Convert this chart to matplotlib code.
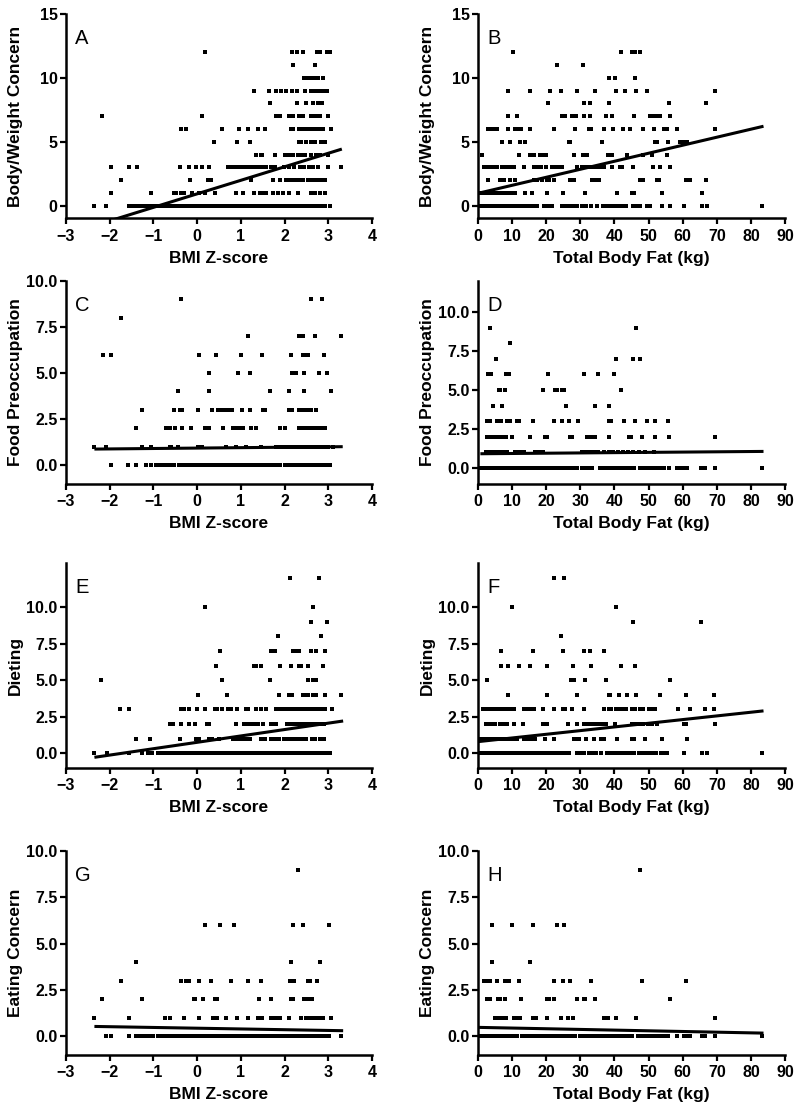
import numpy as np
import matplotlib.pyplot as plt

plt.rcParams['font.family'] = ['Liberation Sans', 'DejaVu Sans']

# score levels (y) and the x values of the points sitting on each level
# A: BMI z-score vs Body/Weight Concern
a_levels = [12, 11, 10, 9, 8, 7, 6, 5, 4, 3, 2, 1, 0]
a_x = [
    [0.18, 2.17, 2.29, 2.42, 2.74, 2.82, 2.98, 3.05],
    [2.19, 2.69],
    [2.45, 2.53, 2.6, 2.68, 2.76, 2.88],
    [1.3, 1.64, 1.81, 1.92, 2.04, 2.17, 2.29, 2.46, 2.61, 2.68, 2.76, 2.83, 2.88, 2.98],
    [1.66, 2.29, 2.5, 2.65, 2.76, 2.86],
    [-2.18, 0.11, 1.81, 1.89, 2.11, 2.19, 2.34, 2.42, 2.6, 2.65, 2.73, 2.8, 2.99],
    [-0.37, -0.25, 0.56, 0.95, 1.16, 1.39, 1.56, 2.15, 2.19, 2.34, 2.42, 2.5, 2.57, 2.65, 2.73, 2.8, 2.88, 3.07],
    [0.38, 0.92, 1.21, 2.32, 2.38, 2.5, 2.61, 2.69, 2.84, 2.92],
    [1.34, 1.45, 1.49, 1.77, 2.0, 2.04, 2.11, 2.19, 2.31, 2.38, 2.46, 2.61, 2.71, 2.8, 2.99],
    [-1.98, -1.56, -1.38, -0.4, -0.19, -0.02, 0.11, 0.28, 0.7, 0.8, 0.87, 0.94, 1.02, 1.1, 1.18, 1.25, 1.33, 1.41,
     1.49, 1.58, 1.68, 1.78, 1.98, 2.1, 2.21, 2.35, 2.44, 2.55, 2.66, 2.77, 2.99, 3.3],
    [-1.74, -0.16, 0.24, 0.32, 1.24, 1.73, 1.89, 2.04, 2.11, 2.19, 2.27, 2.34, 2.42, 2.53, 2.61, 2.69, 2.76, 2.84, 2.92],
    [-1.98, -1.05, -0.53, -0.48, -0.37, -0.29, -0.11, 0.05, 0.17, 0.4, 0.89, 1.05, 1.31, 1.43, 1.5, 1.58, 1.73,
     1.85, 1.96, 2.11, 2.31, 2.61, 2.69, 2.8, 2.92],
    [-2.35, -2.08, -1.55, -1.47, -1.4, -1.33, -1.25, -1.18, -1.12, -1.05, -0.98, -0.92, -0.85, -0.78, -0.71, -0.64,
     -0.58, -0.5, -0.44, -0.37, -0.3, -0.22, -0.15, -0.08, -0.02, 0.05, 0.12, 0.19, 0.25, 0.32, 0.39, 0.46, 0.52,
     0.59, 0.66, 0.72, 0.79, 0.86, 0.93, 0.99, 1.06, 1.13, 1.2, 1.26, 1.33, 1.4, 1.47, 1.53, 1.6, 1.67, 1.74, 1.8,
     1.87, 1.93, 2.0, 2.07, 2.14, 2.2, 2.27, 2.33, 2.39, 2.45, 2.51, 2.57, 2.63, 2.69, 2.75, 2.81, 2.87, 2.93, 3.03],
]

# B: total body fat vs Body/Weight Concern
b_levels = [12, 11, 10, 9, 8, 7, 6, 5, 4, 3, 2, 1, 0]
b_x = [
    [10.2, 42.0, 45.1, 46.1, 47.6],
    [23.1, 30.8],
    [38.3, 40.2, 45.9],
    [8.8, 15.3, 21.2, 24.3, 29.0, 34.2, 40.5, 43.2, 46.4, 49.5, 69.5],
    [20.5, 31.0, 32.9, 38.5, 55.9, 66.9],
    [8.8, 11.4, 24.6, 25.1, 25.6, 27.5, 28.8, 31.0, 32.7, 37.5, 39.3, 45.6, 50.5, 51.5, 52.2, 53.4, 56.2],
    [2.8, 3.6, 4.6, 5.6, 8.8, 10.9, 11.4, 12.7, 15.3, 22.2, 28.5, 32.4, 33.2, 37.0, 39.7, 42.5, 44.6, 48.3, 51.5,
     54.4, 54.9, 55.4, 58.3, 69.5],
    [7.0, 9.5, 12.2, 13.9, 26.6, 27.1, 36.3, 52.0, 52.4, 55.7, 59.1, 60.1, 60.7, 61.4],
    [1.2, 12.1, 15.3, 15.8, 16.3, 18.3, 19.2, 19.9, 28.0, 30.8, 31.9, 38.0, 38.8, 39.3, 43.7, 48.3, 51.0, 55.4],
    [1.7, 2.5, 3.2, 4.1, 4.9, 5.6, 7.0, 7.8, 8.5, 9.0, 9.8, 10.7, 13.6, 16.3, 16.8, 17.3, 18.6, 19.9, 21.7, 23.0,
     23.6, 24.6, 29.0, 30.5, 31.2, 31.9, 32.9, 33.9, 34.9, 35.8, 36.3, 36.8, 39.3, 41.7, 42.2, 45.3, 51.3, 53.4, 56.2],
    [2.8, 6.5, 7.5, 9.5, 10.9, 16.3, 17.3, 18.7, 20.2, 20.7, 22.4, 27.1, 28.0, 33.4, 34.4, 35.4, 47.6, 48.5, 52.4,
     53.2, 61.0, 62.2, 66.9],
    [0.7, 1.7, 2.4, 3.1, 4.1, 5.4, 6.1, 7.0, 7.7, 8.5, 9.2, 9.9, 10.9, 13.9, 15.8, 20.2, 24.9, 31.4, 40.7, 45.1,
     45.6, 53.9, 65.6],
    [0.7, 1.5, 2.2, 3.0, 3.7, 4.5, 5.2, 6.0, 6.8, 7.5, 8.3, 9.0, 9.8, 10.6, 11.3, 12.1, 12.8, 13.6, 14.4, 15.1,
     15.9, 16.6, 17.4, 19.3, 20.1, 20.8, 21.6, 24.6, 25.7, 26.9, 27.8, 29.1, 30.5, 31.8, 33.2, 34.9, 36.6, 37.4,
     38.3, 39.2, 40.1, 40.9, 41.8, 42.7, 43.5, 45.3, 46.4, 47.6, 49.6, 50.4, 53.9, 56.2, 60.3, 65.6, 67.1, 83.2],
]

# C: BMI z-score vs Food Preoccupation
c_levels = [9, 8, 7, 6, 5, 4, 3, 2, 1, 0]
c_x = [
    [-0.37, 2.61, 2.86],
    [-1.74],
    [1.16, 2.33, 2.42, 2.69, 3.3],
    [-2.16, -1.98, 0.04, 0.44, 1.0, 1.49, 2.15, 2.42, 2.46, 2.53, 2.9],
    [0.27, 0.93, 1.21, 2.18, 2.24, 2.27, 2.45, 2.79, 2.98],
    [-0.44, 0.26, 1.67, 2.11, 2.45, 3.07],
    [-1.26, -0.52, -0.4, -0.34, 0.02, 0.34, 0.47, 0.54, 0.61, 0.67, 0.73, 0.79, 1.02, 1.21, 1.5, 1.56, 2.11, 2.18,
     2.33, 2.39, 2.45, 2.5, 2.56, 2.61, 2.73],
    [-1.4, -0.72, -0.62, -0.5, -0.34, -0.14, 0.19, 0.27, 0.6, 0.82, 0.91, 1.0, 1.06, 1.24, 1.34, 1.89, 2.0, 2.33,
     2.4, 2.5, 2.55, 2.6, 2.65, 2.7, 2.75, 2.8, 2.86, 2.92],
    [-2.35, -2.08, -1.26, -1.05, -0.63, -0.59, -0.44, 0.02, 0.07, 0.11, 0.66, 0.89, 1.11, 1.45, 1.81, 1.89, 1.96,
     2.04, 2.1, 2.16, 2.22, 2.28, 2.34, 2.4, 2.46, 2.52, 2.58, 2.64, 2.7, 2.76, 2.82, 2.88, 2.94, 3.0, 3.1],
    [-1.97, -1.59, -1.4, -1.17, -1.05, -0.94, -0.87, -0.8, -0.73, -0.66, -0.59, -0.52, -0.42, -0.36, -0.29, -0.22,
     -0.15, -0.08, -0.01, 0.05, 0.12, 0.19, 0.26, 0.32, 0.39, 0.46, 0.53, 0.6, 0.66, 0.73, 0.8, 0.87, 0.93, 1.0,
     1.07, 1.14, 1.2, 1.27, 1.34, 1.41, 1.48, 1.55, 1.62, 1.69, 1.76, 1.83, 1.9, 2.0, 2.07, 2.14, 2.21, 2.28, 2.35,
     2.42, 2.49, 2.56, 2.63, 2.7, 2.77, 2.84, 2.91, 2.98, 3.05],
]

# D: total body fat vs Food Preoccupation
d_levels = [9, 8, 7, 6, 5, 4, 3, 2, 1, 0]
d_x = [
    [3.4, 46.4],
    [9.3],
    [5.4, 40.5, 45.3, 47.6],
    [2.8, 3.8, 8.3, 9.0, 20.5, 31.2, 35.2, 39.9],
    [6.1, 6.5, 8.0, 19.0, 22.7, 23.3, 24.6, 25.1, 42.0],
    [4.4, 7.0, 25.8, 34.2, 38.5],
    [2.6, 3.1, 3.6, 5.6, 6.3, 6.8, 8.5, 9.5, 11.4, 11.9, 16.1, 22.2, 24.6, 26.6, 29.2, 38.3, 39.1, 42.9, 46.1,
     49.5, 51.8, 55.7],
    [2.6, 3.3, 4.0, 4.7, 5.4, 6.1, 7.0, 7.6, 8.3, 10.0, 15.3, 19.7, 20.2, 27.0, 27.5, 31.9, 32.9, 33.7, 34.2, 38.5,
     44.4, 44.9, 48.2, 52.0, 55.9, 69.5],
    [2.4, 3.1, 3.8, 4.5, 5.2, 5.9, 6.6, 7.3, 8.0, 8.6, 10.9, 11.8, 12.8, 13.6, 16.8, 17.8, 19.2, 30.5, 31.6, 32.8,
     34.0, 35.3, 36.8, 38.4, 39.5, 41.0, 42.6, 44.1, 45.5, 47.3, 49.0, 51.5],
    [1.0, 1.8, 2.6, 3.3, 4.1, 4.9, 5.6, 6.4, 7.2, 8.0, 8.7, 9.5, 10.3, 11.0, 11.8, 12.6, 13.4, 14.2, 15.0, 15.7,
     16.5, 17.3, 18.1, 18.9, 19.8, 20.6, 21.5, 22.3, 23.1, 24.1, 25.1, 26.1, 27.2, 28.1, 29.0, 30.5, 31.4, 32.4,
     33.4, 35.8, 36.7, 37.5, 38.4, 39.2, 40.1, 40.9, 41.7, 42.5, 43.5, 44.6, 45.6, 47.6, 48.4, 49.3, 50.2, 51.1,
     52.0, 52.9, 53.7, 54.4, 55.9, 58.3, 59.2, 60.2, 61.2, 65.4, 66.6, 69.5, 83.2],
]

# E: BMI z-score vs Dieting
e_levels = [12, 10, 9, 8, 7, 6, 5, 4, 3, 2, 1, 0]
e_x = [
    [2.13, 2.79],
    [0.17, 2.66],
    [2.61, 2.98],
    [1.85, 2.84],
    [0.53, 1.69, 1.77, 2.19, 2.27, 2.32, 2.61, 2.71, 2.92],
    [0.44, 1.29, 1.35, 1.45, 1.89, 2.15, 2.33, 2.38, 2.53, 2.88],
    [-2.2, 0.57, 1.66, 2.53, 2.66, 2.73],
    [0.02, 0.68, 1.87, 2.1, 2.18, 2.42, 2.48, 2.53, 2.66, 2.73, 2.92, 3.28],
    [-1.76, -1.56, -0.37, -0.29, -0.19, 0.0, 0.19, 0.4, 0.45, 0.57, 0.7, 0.78, 0.91, 1.11, 1.16, 1.35, 1.47, 1.58,
     1.81, 1.88, 1.95, 2.02, 2.09, 2.16, 2.23, 2.3, 2.37, 2.44, 2.51, 2.58, 2.65, 2.72, 2.79, 2.86, 2.93, 3.08],
    [-0.62, -0.56, -0.37, -0.18, -0.04, 0.22, 0.27, 0.89, 1.08, 1.14, 1.2, 1.26, 1.32, 1.39, 1.5, 1.69, 1.74, 1.8,
     2.05, 2.12, 2.2, 2.28, 2.35, 2.42, 2.48, 2.55, 2.62, 2.68, 2.75, 2.82, 2.9],
    [-1.4, -1.08, -0.4, -0.02, 0.04, 0.27, 0.34, 0.51, 0.82, 0.88, 0.95, 1.02, 1.08, 1.14, 1.2, 1.47, 1.55, 1.69,
     1.78, 1.87, 1.98, 2.08, 2.16, 2.25, 2.33, 2.41, 2.5, 2.62, 2.7, 2.82, 2.9],
    [-2.35, -2.07, -1.55, -1.26, -1.13, -1.03, -0.9, -0.83, -0.76, -0.69, -0.62, -0.55, -0.48, -0.41, -0.34, -0.27,
     -0.2, -0.13, -0.06, 0.01, 0.08, 0.15, 0.22, 0.29, 0.36, 0.43, 0.5, 0.57, 0.64, 0.71, 0.78, 0.85, 0.92, 0.99,
     1.06, 1.13, 1.2, 1.27, 1.34, 1.41, 1.48, 1.55, 1.62, 1.69, 1.76, 1.83, 1.9, 1.97, 2.04, 2.11, 2.18, 2.25,
     2.32, 2.39, 2.46, 2.53, 2.6, 2.67, 2.74, 2.81, 2.88, 2.95, 3.03],
]

# F: total body fat vs Dieting
f_levels = [12, 10, 9, 8, 7, 6, 5, 4, 3, 2, 1, 0]
f_x = [
    [22.4, 25.1],
    [10.0, 40.5],
    [45.4, 65.4],
    [24.3],
    [6.8, 16.1, 24.8, 31.0, 32.9, 37.0],
    [6.7, 8.8, 12.1, 15.3, 20.2, 27.8, 33.1, 42.0, 46.1],
    [2.6, 27.3, 27.8, 28.2, 31.4, 37.6, 56.2],
    [8.7, 20.2, 29.0, 38.3, 38.8, 41.2, 43.7, 46.3, 53.4, 60.9, 69.2],
    [1.5, 2.3, 3.0, 3.7, 4.5, 5.6, 6.5, 7.3, 8.1, 9.5, 10.7, 13.4, 14.4, 15.3, 16.3, 19.2, 22.4, 24.8, 25.4, 27.5,
     31.0, 37.0, 38.3, 39.0, 40.5, 41.5, 42.5, 43.5, 45.1, 46.1, 47.6, 48.3, 50.0, 50.7, 51.4, 52.0, 58.5, 62.2,
     66.6, 69.2],
    [2.4, 3.3, 4.2, 5.1, 6.5, 7.2, 7.9, 8.5, 10.7, 13.1, 19.0, 19.7, 20.2, 26.4, 29.0, 31.0, 32.2, 33.4, 34.6,
     35.6, 36.5, 37.6, 40.2, 45.1, 46.0, 47.2, 48.5, 49.8, 50.9, 52.4, 60.3, 60.9, 69.5],
    [0.2, 1.2, 2.2, 3.2, 4.0, 4.9, 5.8, 6.7, 7.6, 8.5, 9.4, 10.4, 11.4, 13.4, 14.5, 15.6, 16.8, 19.7, 22.4, 28.0,
     28.7, 29.5, 31.6, 33.9, 36.1, 36.8, 40.7, 45.1, 45.6, 49.0, 53.9, 61.4],
    [0.7, 1.5, 2.3, 3.0, 3.8, 4.6, 5.4, 6.1, 6.9, 7.7, 8.5, 9.2, 10.0, 10.8, 11.6, 12.3, 13.1, 13.9, 14.7, 15.4,
     16.2, 17.0, 17.8, 18.5, 19.3, 20.1, 20.9, 21.6, 22.4, 23.2, 24.0, 24.8, 25.7, 26.8, 29.0, 30.3, 31.2, 32.4,
     33.6, 34.7, 36.1, 37.9, 38.7, 39.5, 40.4, 41.2, 42.0, 42.9, 43.8, 44.7, 45.6, 47.2, 48.3, 49.4, 50.3, 51.2,
     52.1, 53.6, 54.5, 55.4, 60.3, 65.6, 67.1, 83.2],
]

# G: BMI z-score vs Eating Concern
g_levels = [9, 6, 4, 3, 2, 1, 0]
g_x = [
    [2.31],
    [0.17, 0.53, 0.85, 2.19, 2.43, 3.01],
    [-1.4, 2.15, 2.82],
    [-1.74, -0.37, -0.25, -0.19, 0.05, 0.32, 0.78, 1.16, 1.45, 2.13, 2.22, 2.53, 2.59, 2.75],
    [-2.18, -1.26, -0.08, -0.04, 0.13, 0.4, 0.45, 1.41, 1.69, 2.15, 2.19, 2.45, 2.48, 2.56, 2.62],
    [-2.35, -1.56, -0.73, -0.63, -0.29, 0.04, 0.37, 0.45, 0.66, 0.92, 1.16, 1.39, 1.49, 1.69, 1.76, 1.82, 1.89,
     2.11, 2.38, 2.5, 2.57, 2.63, 2.69, 2.75, 2.81, 2.88, 3.07],
    [-2.08, -1.98, -1.55, -1.4, -1.32, -1.24, -1.17, -1.09, -1.02, -0.9, -0.83, -0.76, -0.69, -0.62, -0.55, -0.48,
     -0.41, -0.34, -0.27, -0.2, -0.13, -0.06, 0.01, 0.08, 0.15, 0.22, 0.29, 0.36, 0.43, 0.5, 0.57, 0.64, 0.71,
     0.78, 0.85, 0.92, 0.99, 1.06, 1.13, 1.2, 1.27, 1.34, 1.41, 1.48, 1.55, 1.62, 1.69, 1.76, 1.83, 1.9, 1.97,
     2.04, 2.11, 2.18, 2.25, 2.32, 2.39, 2.46, 2.53, 2.6, 2.67, 2.74, 2.81, 2.88, 2.95, 3.02, 3.28],
]

# H: total body fat vs Eating Concern
h_levels = [9, 6, 4, 3, 2, 1, 0]
h_x = [
    [47.6],
    [4.1, 10.0, 16.1, 23.1, 25.3],
    [4.1, 15.3],
    [1.9, 2.4, 3.1, 3.4, 5.6, 7.8, 8.5, 9.0, 12.1, 22.4, 24.8, 26.9, 33.2, 48.2, 60.9],
    [2.6, 3.1, 3.6, 5.9, 6.5, 7.8, 12.6, 20.2, 20.9, 22.4, 29.0, 31.0, 31.4, 34.4, 56.2],
    [5.1, 5.6, 6.1, 6.6, 7.1, 7.6, 8.3, 10.7, 11.4, 12.4, 16.1, 17.1, 20.2, 24.4, 26.4, 27.8, 36.8, 38.0, 40.5,
     46.4, 69.5],
    [0.7, 1.5, 2.3, 3.0, 3.8, 4.6, 5.3, 6.1, 6.9, 7.6, 8.4, 9.2, 9.9, 10.7, 11.5, 12.8, 13.6, 14.3, 15.1, 15.9,
     16.6, 17.4, 18.2, 18.9, 19.7, 20.5, 21.2, 22.0, 22.8, 23.6, 24.4, 25.2, 26.0, 26.8, 27.6, 28.4, 29.9, 30.7,
     31.5, 32.3, 33.1, 33.9, 34.8, 35.6, 36.4, 37.2, 38.0, 38.8, 39.6, 40.4, 41.2, 42.0, 42.8, 43.6, 44.4, 45.2,
     47.0, 47.8, 48.6, 49.4, 50.2, 51.0, 51.8, 52.6, 53.4, 54.2, 55.0, 55.8, 58.3, 60.3, 61.2, 62.2, 65.6, 66.6,
     69.5, 83.2],
]

# regression lines: intercept, slope, x span
fit_intercept = [0.93, 0.97, 0.924, 0.909, 0.754, 0.80, 0.445, 0.49]
fit_slope = [1.058, 0.0627, 0.0229, 0.0018, 0.436, 0.0251, -0.0404, -0.0037]
fit_xmin = [-2.35, 0.5, -2.35, 0.7, -2.35, 0.0, -2.35, 0.0]
fit_xmax = [3.31, 83.7, 3.33, 83.7, 3.34, 83.7, 3.34, 83.7]

letters = ['A', 'B', 'C', 'D', 'E', 'F', 'G', 'H']
ylabels = ['Body/Weight Concern', 'Body/Weight Concern', 'Food Preoccupation', 'Food Preoccupation',
           'Dieting', 'Dieting', 'Eating Concern', 'Eating Concern']
xlabels = ['BMI Z-score', 'Total Body Fat (kg)']
ytops = [15, 15, 10, 12, 13, 13, 10, 10]
levels = [a_levels, b_levels, c_levels, d_levels, e_levels, f_levels, g_levels, h_levels]
xvals = [a_x, b_x, c_x, d_x, e_x, f_x, g_x, h_x]

fig = plt.figure(figsize=(8, 11.12), dpi=100)
W, H = 800.0, 1112.0
col_left = [66, 478]
col_width = [306, 307]
row_top = [14, 281, 563, 851]
row_bot = [218.5, 483.5, 768, 1055]

for i in range(8):
    r, c = i // 2, i % 2
    ax = fig.add_axes([col_left[c] / W, 1 - row_bot[r] / H, col_width[c] / W, (row_bot[r] - row_top[r]) / H])

    xs = np.concatenate([np.array(v, float) for v in xvals[i]])
    ys = np.repeat(levels[i], [len(v) for v in xvals[i]])
    ax.scatter(xs, ys, s=4.8, c='black', marker='s', linewidths=0, zorder=3)

    fx = np.array([fit_xmin[i], fit_xmax[i]])
    ax.plot(fx, fit_intercept[i] + fit_slope[i] * fx, color='black', lw=2.2, zorder=2,
            solid_capstyle='butt')

    ax.set_ylim(-1, ytops[i])
    if c == 0:
        ax.set_xlim(-3, 4)
        ax.set_xticks(range(-3, 5))
    else:
        ax.set_xlim(0, 90)
        ax.set_xticks(range(0, 91, 10))
    if ytops[i] == 15:
        ax.set_yticks([0, 5, 10, 15])
    else:
        ax.set_yticks([0, 2.5, 5, 7.5, 10])
        ax.set_yticklabels(['0.0', '2.5', '5.0', '7.5', '10.0'])

    for s in ['top', 'right']:
        ax.spines[s].set_visible(False)
    for s in ['left', 'bottom']:
        ax.spines[s].set_linewidth(1.8)
    ax.tick_params(direction='out', length=4, width=1.6, labelsize=11.5, pad=2)
    ax.tick_params(axis='x', pad=3.5)
    for lbl in ax.get_xticklabels() + ax.get_yticklabels():
        lbl.set_fontweight('bold')

    ax.set_xlabel(xlabels[c], fontsize=12.5, fontweight='bold', labelpad=5)
    ax.set_ylabel(ylabels[i], fontsize=12.5, fontweight='bold')
    ax.yaxis.set_label_coords(-0.14, 0.5)
    ax.text(0.03, 0.88, letters[i], transform=ax.transAxes, fontsize=14.5,
            ha='left', va='center')

fig.savefig('out.png', dpi=100)
